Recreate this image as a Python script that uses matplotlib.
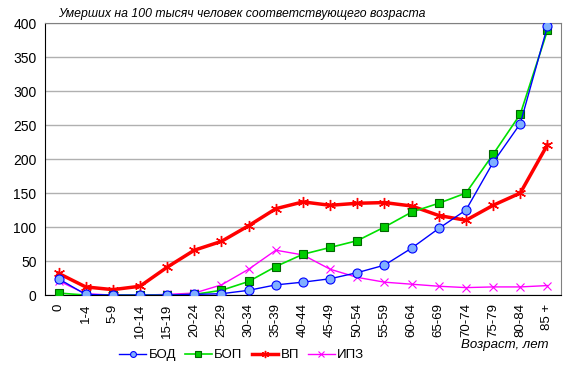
import matplotlib.pyplot as plt
import numpy as np

plt.rcParams['font.family'] = ['Liberation Sans', 'DejaVu Sans']

ages = ['0', '1-4', '5-9', '10-14', '15-19', '20-24', '25-29', '30-34', '35-39', '40-44',
        '45-49', '50-54', '55-59', '60-64', '65-69', '70-74', '75-79', '80-84', '85 +']
bod = [24, 1, 0, 0, 0, 1, 2, 7, 15, 19, 24, 33, 44, 69, 98, 125, 195, 252, 395]
bop = [3, 0, 0, 0, 0, 1, 7, 20, 42, 60, 70, 80, 100, 122, 135, 150, 207, 266, 389]
vp = [32, 12, 8, 13, 41, 66, 79, 102, 127, 137, 132, 135, 136, 131, 117, 110, 132, 150, 221]
ipz = [21, 2, 0, 0, 1, 3, 15, 38, 66, 59, 38, 26, 19, 16, 13, 11, 12, 12, 14]

fig = plt.figure(figsize=(5.76, 3.74), dpi=100)
ax = fig.add_axes([0.078, 0.211, 0.896, 0.7275])

x = np.arange(len(ages))
ax.plot(x, bod, color='#0000ff', lw=1, marker='o', markersize=6.5,
        markerfacecolor='#80b0ff', markeredgecolor='#0000ff', markeredgewidth=0.8, label='БОД', zorder=4)
ax.plot(x, bop, color='#00e000', lw=1.2, marker='s', markersize=6,
        markerfacecolor='#00cc00', markeredgecolor='#006600', markeredgewidth=0.8, label='БОП', zorder=3)
ax.plot(x, vp, color='#ff0000', lw=2.5, marker=(6, 2, 0), markersize=8,
        markeredgecolor='#ff0000', markeredgewidth=1, label='ВП', zorder=2)
ax.plot(x, ipz, color='#ff00ff', lw=1, marker='x', markersize=6,
        markeredgecolor='#ff00ff', markeredgewidth=0.8, label='ИПЗ', zorder=1)

ax.set_xlim(-0.5, len(ages) - 0.5)
ax.set_ylim(0, 400)
ax.set_yticks(range(0, 401, 50))
ax.set_xticks(x)
ax.set_xticklabels(ages, rotation=90, fontsize=9.5)
ax.tick_params(axis='y', labelsize=10, length=0, pad=6)
ax.tick_params(axis='x', length=0, pad=6)
ax.grid(axis='y', color='#b0b0b0', lw=1)
ax.set_axisbelow(True)
ax.spines['left'].set_color('black')
ax.spines['bottom'].set_color('black')
ax.spines['top'].set_color('#808080')
ax.spines['right'].set_color('#808080')

fig.text(0.419, 0.962, 'Умерших на 100 тысяч человек соответствующего возраста',
         ha='center', va='center', fontsize=8.8, style='italic')
fig.text(0.952, 0.077, 'Возраст, лет', ha='right', va='center', fontsize=9.5, style='italic')

fig.legend(loc='center', bbox_to_anchor=(0.42, 0.05), ncol=4, frameon=False,
           fontsize=9.5, handlelength=2.0, columnspacing=0.7, handletextpad=0.2,
           markerscale=0.65)

fig.savefig('out.png', dpi=100)
